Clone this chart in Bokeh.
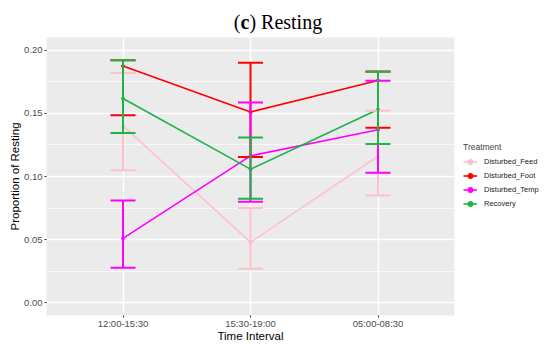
from bokeh.plotting import figure
from bokeh.models import (ColumnDataSource, FactorRange, Whisker, TeeHead, Legend, LegendItem,
                          FixedTicker, NumeralTickFormatter, Range1d, Div)
from bokeh.layouts import column
from bokeh.embed import file_html
from bokeh.resources import INLINE

# ---- data ----
time_intervals = ["12:00-15:30", "15:30-19:00", "05:00-08:30"]
treatments = ["Disturbed_Feed", "Disturbed_Foot", "Disturbed_Temp", "Recovery"]

feed_mean = [0.140, 0.048, 0.116]
feed_lo = [0.105, 0.027, 0.085]
feed_hi = [0.182, 0.075, 0.152]

foot_mean = [0.1875, 0.151, 0.176]
foot_lo = [0.1485, 0.1155, 0.1385]
foot_hi = [0.192, 0.190, 0.183]

temp_mean = [0.051, 0.1163, 0.137]
temp_lo = [0.0277, 0.080, 0.103]
temp_hi = [0.081, 0.1585, 0.1757]

rec_mean = [0.1617, 0.1058, 0.153]
rec_lo = [0.1345, 0.0823, 0.1258]
rec_hi = [0.192, 0.1309, 0.1828]

y_ticks = [0.0, 0.05, 0.10, 0.15, 0.20]
y_minor = [0.025, 0.075, 0.125, 0.175]

colors = ["#FFC0CB", "#FF0000", "#FF00FF", "#1DB446"]
series = [(feed_mean, feed_lo, feed_hi), (foot_mean, foot_lo, foot_hi),
          (temp_mean, temp_lo, temp_hi), (rec_mean, rec_lo, rec_hi)]

p = figure(x_range=FactorRange(factors=time_intervals, range_padding=0.2 / 3,
                               range_padding_units="percent"),
           y_range=Range1d(-0.01, 0.21),
           frame_width=408, frame_height=278,
           min_border_left=46, min_border_top=0, min_border_right=96, min_border_bottom=33,
           output_backend="svg", toolbar_location=None, title=None)
p.outline_line_color = None
p.background_fill_color = "#EBEBEB"
p.border_fill_color = "white"

# grids
p.ygrid.ticker = FixedTicker(ticks=y_ticks, minor_ticks=y_minor)
p.ygrid.grid_line_color = "white"
p.ygrid.grid_line_width = 1.4
p.ygrid.minor_grid_line_color = "white"
p.ygrid.minor_grid_line_width = 0.7
p.xgrid.grid_line_color = "white"
p.xgrid.grid_line_width = 1.4

# axes
p.yaxis.ticker = FixedTicker(ticks=y_ticks, minor_ticks=[])
p.yaxis.formatter = NumeralTickFormatter(format="0.00")
for ax in (p.xaxis[0], p.yaxis[0]):
    ax.axis_line_color = None
    ax.major_tick_line_color = "#333333"
    ax.major_tick_out = 2
    ax.major_tick_in = 0
    ax.minor_tick_line_color = None
    ax.major_label_text_color = "#4D4D4D"
    ax.major_label_text_font = "Liberation Sans"
    ax.major_label_text_font_size = "9.5px"
    ax.axis_label_text_font = "Liberation Sans"
    ax.axis_label_text_font_size = "11.5px"
    ax.axis_label_text_font_style = "normal"
    ax.axis_label_text_color = "black"
p.xaxis.major_label_standoff = 0
p.xaxis.axis_label_standoff = -2
p.yaxis.major_label_standoff = 2
p.yaxis.axis_label_standoff = 0
p.xaxis.axis_label = "Time Interval"
p.yaxis.axis_label = "Proportion of Resting"

items = []
for name, col, (m, lo, hi) in zip(treatments, colors, series):
    src = ColumnDataSource(dict(x=time_intervals, m=m, lo=lo, hi=hi))
    ln = p.line("x", "m", source=src, line_color=col, line_width=1.6)
    pt = p.scatter("x", "m", source=src, color=col, size=3)
    w = Whisker(source=src, base="x", upper="hi", lower="lo", dimension="height",
                line_color=col, line_width=2, level="glyph",
                upper_head=TeeHead(size=25, line_color=col, line_width=2),
                lower_head=TeeHead(size=25, line_color=col, line_width=2))
    p.add_layout(w)
    items.append(LegendItem(label=name, renderers=[ln, pt]))

legend = Legend(items=items, title="Treatment", location=(9, 105),
                title_text_font="Liberation Sans", title_text_font_size="8.5px",
                title_text_font_style="normal", title_standoff=3,
                label_text_font="Liberation Sans", label_text_font_size="7.5px",
                label_text_color="#1a1a1a",
                glyph_width=14, glyph_height=13, label_height=13, label_standoff=7,
                spacing=1, padding=5, margin=0,
                border_line_color=None, background_fill_alpha=0)
p.add_layout(legend, "right")

title = Div(text='<div style="width:550px;box-sizing:border-box;text-align:center;'
                 'padding-left:6px;padding-top:11px;'
                 'font-family:\'Liberation Serif\',serif;font-size:20px;line-height:22px;color:black">'
                 '(<b>c</b>) Resting</div>',
            width=550, height=37, margin=0)

layout = column(title, p, spacing=0)
open("out.html", "w").write(file_html(layout, INLINE))
